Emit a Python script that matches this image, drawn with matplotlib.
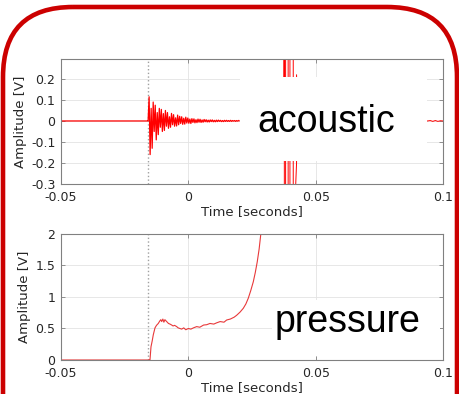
"""
Señal acustica y de presion alrededor del disparo, con etiquetas sobre fondo blanco.
"""
import numpy as np
import matplotlib.pyplot as plt
from matplotlib.patches import Rectangle, FancyBboxPatch

plt.rcParams["font.family"] = "DejaVu Sans"
plt.rcParams["font.size"] = 9

# --- datos ---
t_trigger = -0.0158

# acustica: tramo plano, rafaga muestreada cada 0.4 ms, picos tardios y cola
ac_flat_t = [-0.05, -0.0160]
ac_flat_v = [0.0, 0.0]
ac_burst_t0 = -0.0158
ac_burst_dt = 0.0004
ac_burst_v = [
    0.0, 0.115, -0.16, 0.06, -0.13, 0.09, -0.05, 0.075, -0.09, 0.04,
    -0.065, 0.06, -0.03, 0.055, -0.05, 0.035, -0.045, 0.05, -0.025, 0.04,
    -0.035, 0.02, -0.03, 0.036, -0.018, 0.03, -0.025, 0.015, -0.024, 0.028,
    -0.018, 0.022, -0.012, 0.02, -0.016, 0.013, -0.015, 0.018, -0.01, 0.014,
    -0.011, 0.009, -0.012, 0.011, -0.007, 0.010, -0.009, 0.006, -0.008, 0.009,
    -0.006, 0.008, -0.007, 0.005, -0.006, 0.007, -0.004, 0.006, -0.005, 0.004,
    -0.005, 0.005, -0.003, 0.005, -0.004, 0.003, -0.004, 0.004, -0.003, 0.004,
    -0.002, 0.003, -0.003, 0.002, -0.003, 0.003, -0.002, 0.003, -0.002, 0.002,
    -0.002, 0.003, -0.002, 0.002, -0.001, 0.002, -0.002, 0.002, -0.001, 0.002,
]
ac_late_t = [0.0202, 0.0375, 0.0377, 0.0377, 0.0382, 0.0382, 0.0392, 0.0392,
             0.0399, 0.0399, 0.0412, 0.0412, 0.0425, 0.0425, 0.0430, 0.0940,
             0.0950, 0.0960, 0.0970, 0.0980, 0.0990, 0.1000]
ac_late_v = [0.0, 0.0, 1.5, -1.5, -1.2, 1.2, 0.9, -0.9, -0.8, 0.8,
             0.6, -0.6, -0.2, 0.22, 0.0, 0.0,
             0.002, -0.002, 0.002, -0.002, 0.001, 0.0]

# presion
pr_t = [-0.05, -0.0152, -0.01506, -0.01466, -0.01420, -0.01376, -0.01309,
        -0.01250, -0.01180, -0.01120, -0.01080, -0.01046, -0.01000, -0.00960,
        -0.00920, -0.00850, -0.00780, -0.00720, -0.00654, -0.00600, -0.00540,
        -0.00457, -0.00400, -0.00330, -0.00261, -0.00180, -0.00100, 0.0,
        0.00100, 0.00200, 0.00328, 0.00450, 0.00600, 0.00721, 0.00850,
        0.01000, 0.01113, 0.01250, 0.01400, 0.01506, 0.01650, 0.01800,
        0.01898, 0.02030, 0.02157, 0.02260, 0.02354, 0.02450, 0.02550,
        0.02630, 0.02707, 0.02780, 0.02841, 0.03000]
pr_v = [0.0, 0.0, 0.0, 0.21, 0.30, 0.40, 0.51,
        0.55, 0.58, 0.62, 0.64, 0.61, 0.65, 0.60,
        0.64, 0.61, 0.58, 0.57, 0.555, 0.54, 0.55,
        0.53, 0.51, 0.50, 0.49, 0.51, 0.48, 0.50,
        0.49, 0.51, 0.53, 0.52, 0.555, 0.56, 0.58,
        0.57, 0.59, 0.61, 0.60, 0.635, 0.65, 0.68,
        0.71, 0.76, 0.82, 0.89, 0.98, 1.10, 1.24,
        1.39, 1.56, 1.76, 1.98, 2.40]

ac_burst_t = ac_burst_t0 + ac_burst_dt * np.arange(len(ac_burst_v))
ac_t = np.concatenate([ac_flat_t, ac_burst_t])
ac_v = np.concatenate([ac_flat_v, ac_burst_v])

GRIS = "#808080"
TEXTO = "#262626"

fig = plt.figure(figsize=(4.59, 3.94), dpi=100)
ax1 = fig.add_axes([0.1329, 0.533, 0.8322, 0.3173])
ax2 = fig.add_axes([0.1329, 0.0863, 0.8322, 0.3198])


def estilo(ax, yticks, ylim):
    ax.set_xlim(-0.05, 0.1)
    ax.set_ylim(*ylim)
    ax.set_xticks([-0.05, 0, 0.05, 0.1])
    ax.set_xticklabels(["-0.05", "0", "0.05", "0.1"])
    ax.set_yticks(yticks)
    ax.set_yticklabels([f"{v:g}" for v in yticks])
    ax.grid(True, color="#E3E3E3", linewidth=0.6)
    ax.set_axisbelow(True)
    for s in ax.spines.values():
        s.set_color(GRIS)
        s.set_linewidth(0.8)
    ax.tick_params(direction="in", length=3, width=0.6, color=GRIS,
                   labelcolor=TEXTO, top=True, right=True)
    ax.tick_params(axis="x", pad=5)
    ax.tick_params(axis="y", pad=4)
    ax.set_xlabel("Time [seconds]", color=TEXTO, fontsize=9.5, labelpad=1)
    ax.set_ylabel("Amplitude [V]", color=TEXTO, fontsize=9.5, labelpad=3)
    ax.axvline(t_trigger, color="#A0A0A0", linestyle=":", linewidth=1.0, zorder=1)


# 1. acustica
estilo(ax1, [-0.3, -0.2, -0.1, 0, 0.1, 0.2], (-0.3, 0.295))
ax1.plot(ac_t, ac_v, color="#FF0000", linewidth=0.9, zorder=2)
ax1.plot(ac_late_t, ac_late_v, color="#FF0000", linewidth=0.7, zorder=2)
ax1.add_patch(Rectangle((0.0203, -0.19), 0.0734, 0.3995, facecolor="white",
                        edgecolor="none", zorder=5))
ax1.text(0.0542, -0.052, "acoustic", fontsize=27, family="Liberation Sans",
         ha="center", va="baseline", color="black", zorder=6)

# 2. presion
estilo(ax2, [0, 0.5, 1, 1.5, 2], (0, 2))
ax2.plot(pr_t, pr_v, color="#E8393A", linewidth=0.8, zorder=2)
ax2.add_patch(Rectangle((0.0328, 0.06), 0.066, 0.89, facecolor="white",
                        edgecolor="none", zorder=5))
ax2.text(0.0625, 0.444, "pressure", fontsize=27, family="Liberation Sans",
         ha="center", va="baseline", color="black", zorder=6)

# marco rojo redondeado (coordenadas en pixeles)
marco = fig.add_axes([0, 0, 1, 1], zorder=10)
marco.set_xlim(0, 459)
marco.set_ylim(394, 0)
marco.axis("off")
marco.patch.set_alpha(0)
marco.add_patch(FancyBboxPatch((3, 7), 454, 600,
                               boxstyle="round,pad=0,rounding_size=70",
                               facecolor="none", edgecolor="#CC0000",
                               linewidth=3.3))

plt.savefig("out.png", dpi=100)
